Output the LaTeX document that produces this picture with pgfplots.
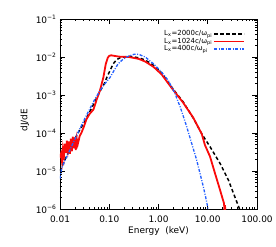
\documentclass[border=0pt]{standalone}
\usepackage{fontspec}
\setmainfont{DejaVu Sans}
\usepackage{pgfplots}
\pgfplotsset{compat=1.18}
\definecolor{myblue}{RGB}{35,95,255}
\definecolor{myred}{RGB}{250,10,10}
\begin{document}
\begin{tikzpicture}
\useasboundingbox (0,0) rectangle (276bp,247bp);
\begin{axis}[
 at={(60bp,38bp)}, anchor=south west,
 scale only axis, width=197bp, height=190bp,
 xmode=log, ymode=log,
 xmin=0.01, xmax=100, ymin=1e-6, ymax=1e-1,
 xtick={0.01,0.1,1,10,100},
 xticklabels={0.01,0.10,1.00,10.00,100.00},
 minor xtick={0.02,0.03,0.04,0.05,0.06,0.07,0.08,0.09,0.2,0.3,0.4,0.5,0.6,0.7,0.8,0.9,2,3,4,5,6,7,8,9,20,30,40,50,60,70,80,90},
 ytick={1e-6,1e-5,1e-4,1e-3,1e-2,1e-1},
 yticklabels={10\textsuperscript{−6},10\textsuperscript{−5},10\textsuperscript{−4},10\textsuperscript{−3},10\textsuperscript{−2},10\textsuperscript{−1}},
 minor ytick={2e-6,3e-6,4e-6,5e-6,6e-6,7e-6,8e-6,9e-6,2e-5,3e-5,4e-5,5e-5,6e-5,7e-5,8e-5,9e-5,2e-4,3e-4,4e-4,5e-4,6e-4,7e-4,8e-4,9e-4,2e-3,3e-3,4e-3,5e-3,6e-3,7e-3,8e-3,9e-3,2e-2,3e-2,4e-2,5e-2,6e-2,7e-2,8e-2,9e-2},
 tick label style={font=\fontsize{9}{10}\selectfont},
 xticklabel style={yshift=-3bp},
 label style={font=\fontsize{9}{10}\selectfont},
 xlabel={Energy~~(keV)},
 ylabel={dJ/dE},
 xlabel style={at={(axis description cs:0.5,-0.116)}, anchor=center},
 ylabel style={at={(axis description cs:-0.178,0.468)}, anchor=center},
 major tick length=5bp, minor tick length=2.5bp,
 every tick/.style={black, line width=0.5pt},
 axis line style={line width=0.7pt},
 legend cell align=left,
 legend plot pos=right,
 legend image code/.code={\draw[#1] (0bp,0bp) -- (30bp,0bp);},
 legend style={at={(axis description cs:0.94,0.945)}, anchor=north east, draw=none, fill=none,
   font=\fontsize{7}{7.5}\selectfont, row sep=-1.2pt, inner sep=0pt,
   nodes={inner sep=1pt},
   /tikz/every even column/.append style={column sep=4bp}},
]
\addplot[black, line width=1.5bp, dash pattern=on 3.5bp off 2.5bp] coordinates {
(0.01,1.0e-5) (0.01259,2.0e-5) (0.01585,3.8e-5) (0.01995,6.92e-5) (0.02512,1.202e-4)
(0.03162,1.995e-4) (0.03981,3.548e-4) (0.05012,6.31e-4) (0.0631,1.175e-3) (0.07943,1.995e-3)
(0.08913,2.884e-3) (0.1,3.981e-3) (0.1202,6.607e-3) (0.1413,8.511e-3) (0.166,9.55e-3)
(0.2512,1.047e-2)
(0.3981,9.55e-3) (0.537,8.318e-3) (0.7943,6.026e-3) (1.161,3.802e-3) (1.995,1.413e-3)
(3.162,6.607e-4) (5.093,2.455e-4) (7.534,9.55e-5) (11.12,4.365e-5) (17.78,1.585e-5)
(26.3,5.754e-6) (35.48,2.089e-6) (43.65,1.047e-6) (45.71,7.94e-7)
};
\addlegendentry{L\textsubscript{x}=2000c/ω\textsubscript{pi}}
\addplot[myred, line width=1.8bp] coordinates {
(0.01,2.239e-5) (0.01047,2.818e-5) (0.01096,1.778e-5) (0.01148,3.802e-5) (0.01202,2.399e-5)
(0.01259,5.248e-5) (0.01318,3.02e-5) (0.0138,6.31e-5) (0.01445,3.548e-5) (0.01514,6.026e-5)
(0.01585,2.818e-5) (0.0166,7.079e-5) (0.01738,3.311e-5) (0.0182,7.943e-5) (0.01905,3.981e-5)
(0.01995,7.586e-5) (0.02089,3.548e-5) (0.02188,7.079e-5) (0.02291,5.012e-5) (0.02512,8.318e-5)
(0.02754,1.047e-4) (0.0302,1.413e-4) (0.03467,2.344e-4) (0.03981,3.162e-4) (0.04365,3.631e-4)
(0.04786,4.169e-4) (0.05623,7.943e-4) (0.06457,1.288e-3) (0.07586,2.884e-3) (0.08511,6.607e-3)
(0.09333,9.55e-3) (0.1,1.072e-2) (0.1096,1.109e-2) (0.1259,1.072e-2) (0.1585,1.023e-2)
(0.2512,1.0e-2) (0.3981,8.913e-3) (0.537,7.586e-3)
(0.7943,5.495e-3) (1.161,3.467e-3) (1.862,1.514e-3) (3.162,6.31e-4) (5.093,2.512e-4)
(7.534,9.55e-5) (8.79,4.786e-5) (11.12,2.399e-5) (14.03,8.71e-6) (17.78,3.162e-6)
(19.95,1.905e-6) (21.38,1.413e-6) (21.88,8.91e-7) (22.39,1.259e-6) (22.91,7.94e-7)
};
\addlegendentry{L\textsubscript{x}=1024c/ω\textsubscript{pi}}
\addplot[myblue, line width=1.3bp, dash pattern=on 3bp off 1.5bp on 1bp off 1.5bp] coordinates {
(0.01,6.31e-6) (0.01072,1.122e-5) (0.01259,1.905e-5) (0.01585,3.548e-5) (0.01995,6.761e-5)
(0.02512,1.259e-4) (0.03162,2.344e-4) (0.03981,4.169e-4) (0.05012,7.413e-4) (0.06457,1.288e-3)
(0.07943,1.905e-3) (0.1035,2.884e-3) (0.1259,4.467e-3) (0.1514,6.607e-3) (0.1862,8.511e-3)
(0.2239,1.0e-2) (0.3162,1.175e-2) (0.3981,1.175e-2) (0.537,1.0e-2)
(0.7943,6.607e-3) (1.161,3.981e-3) (1.585,2.399e-3) (2.163,1.096e-3) (2.818,4.467e-4)
(3.733,1.479e-4) (4.786,5.012e-5) (5.957,1.95e-5) (7.079,7.943e-6) (8.128,3.89e-6)
(9.12,1.995e-6) (9.977,1.122e-6) (10.47,7.94e-7)
};
\addlegendentry{L\textsubscript{x}=400c/ω\textsubscript{pi}}
\end{axis}
\end{tikzpicture}
\end{document}
